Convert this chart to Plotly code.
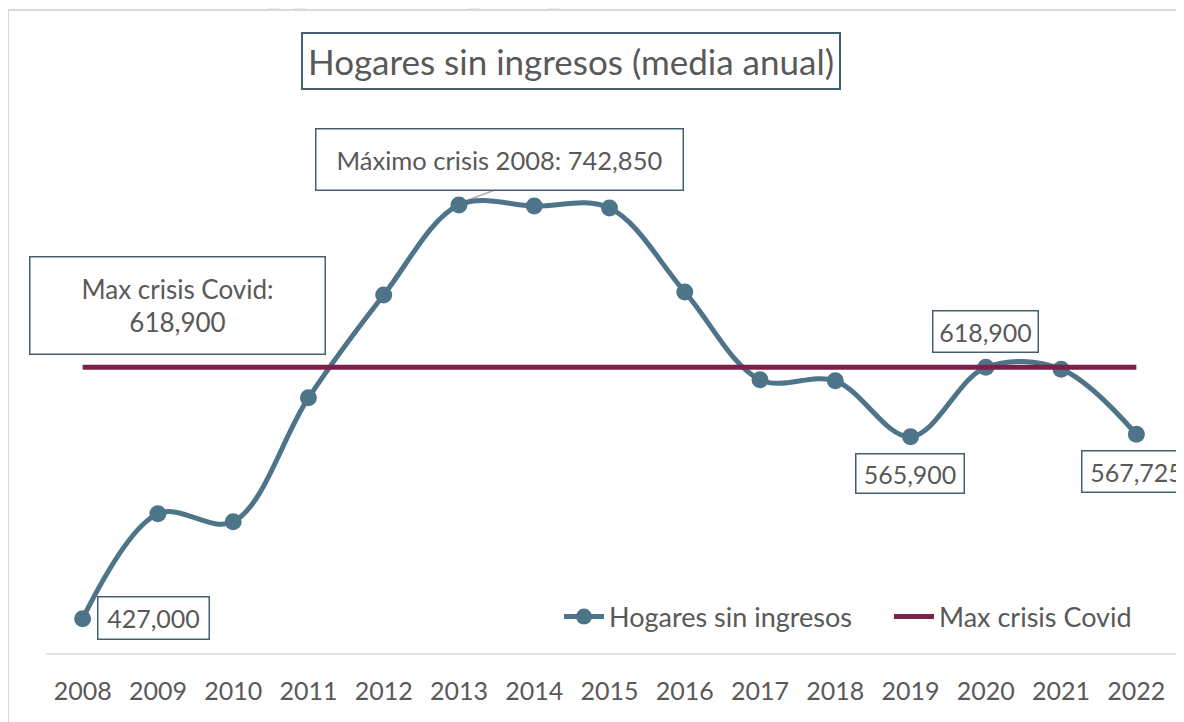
import plotly.graph_objects as go

years = list(range(2008, 2023))
hogares = [427000, 507100, 501000, 595600, 674200, 742850, 742100, 740600,
           676500, 609400, 608600, 565900, 618900, 617500, 567725]
covid_max = 618900
covid_line = [covid_max] * len(years)

title_text = "Hogares sin ingresos (media anual)"
max2008_text = "Máximo crisis 2008: 742,850"
covid_text = "Max crisis Covid:<br>618,900"

BLUE = "#4E7489"
MAROON = "#7B2148"
TXT = "#595959"
BOX = "#44606F"
FONT = "Lato"

# page offset (body margin) so pixel positions match the reference frame
O = 8
W, H = 1184 - O, 722 - O
L, R, T, B = 37, 10, 96, 68
PW = W - L - R
PH = H - T - B


def px(x):
    return (x - O - L) / PW


def py(y):
    return (H - B - (y - O)) / PH


fig = go.Figure()
fig.add_trace(go.Scatter(
    x=years, y=hogares, name="Hogares sin ingresos",
    mode="lines+markers",
    line=dict(color=BLUE, width=5, shape="spline", smoothing=1.0),
    marker=dict(color=BLUE, size=17),
    legend="legend",
))
fig.add_trace(go.Scatter(
    x=years, y=covid_line, name="Max crisis Covid",
    mode="lines", line=dict(color=MAROON, width=5),
    legend="legend2",
))


def box(text, cx, cy, w, h, size=25, bw=1.5):
    return dict(text=text, xref="paper", yref="paper", x=px(cx), y=py(cy),
                xanchor="center", yanchor="middle", showarrow=False,
                width=w, height=h, bordercolor=BOX, borderwidth=bw,
                bgcolor="white", font=dict(family=FONT, size=size, color=TXT),
                align="center")


annotations = [
    box(title_text, 571, 61, 534, 52, size=35, bw=2),
    box(max2008_text, 499, 159, 364, 58, size=25.5),
    box(covid_text, 177, 305, 292, 94, size=26),
    box("618,900", 985, 331, 102, 38),
    box("565,900", 910, 473, 105, 36),
    box("567,725", 1136, 471, 106, 38),
    box("427,000", 153, 618, 108, 39),
]


def stripe(xb):
    x0, x1 = px(xb), px(xb + 12)
    x2, x3 = px(xb + 18), px(xb + 6)
    y0, y1 = py(10), py(0)
    return dict(type="path", xref="paper", yref="paper",
                path=f"M {x0} {y0} L {x1} {y0} L {x2} {y1} L {x3} {y1} Z",
                fillcolor="#EBEBEB", line=dict(width=0), layer="below")


shapes = [
    stripe(266), stripe(293), stripe(468), stripe(546),
    # leader line from Máximo label to its point
    dict(type="line", xref="paper", yref="paper", x0=px(495), y0=py(190),
         x1=px(460), y1=py(203), line=dict(color="#B0B0B0", width=1.5), layer="below"),
    # chart area frame
    dict(type="line", xref="paper", yref="paper", x0=px(8), y0=py(10),
         x1=px(1200), y1=py(10), line=dict(color="#D9D9D9", width=2)),
    dict(type="line", xref="paper", yref="paper", x0=px(8), y0=py(10),
         x1=px(8), y1=py(740), line=dict(color="#D9D9D9", width=2)),
    # category axis line extended to full width
    dict(type="line", xref="paper", yref="paper", x0=px(46), y0=0,
         x1=px(1200), y1=0, line=dict(color="#D9D9D9", width=1.5)),
]

leg_common = dict(orientation="h", xanchor="left", yanchor="middle",
                  font=dict(family=FONT, size=27, color=TXT),
                  bgcolor="rgba(0,0,0,0)", itemwidth=40)

fig.update_layout(
    width=W, height=H,
    margin=dict(l=L, r=R, t=T, b=B),
    paper_bgcolor="white", plot_bgcolor="white",
    showlegend=True,
    legend=dict(x=px(559), y=py(617), **leg_common),
    legend2=dict(x=px(889), y=py(617), **leg_common),
    annotations=annotations,
    shapes=shapes,
    font=dict(family=FONT, color=TXT),
)
fig.update_xaxes(range=[2007.5, 2022.5], tickmode="array", tickvals=years,
                 ticktext=[str(y) for y in years], showgrid=False,
                 zeroline=False, showline=False, ticks="",
                 ticklabelstandoff=20,
                 tickfont=dict(family=FONT, size=25, color=TXT))
fig.update_yaxes(range=[400000, 820000], showgrid=False, zeroline=False,
                 showline=False, showticklabels=False, ticks="")

fig.write_html("out.html")
